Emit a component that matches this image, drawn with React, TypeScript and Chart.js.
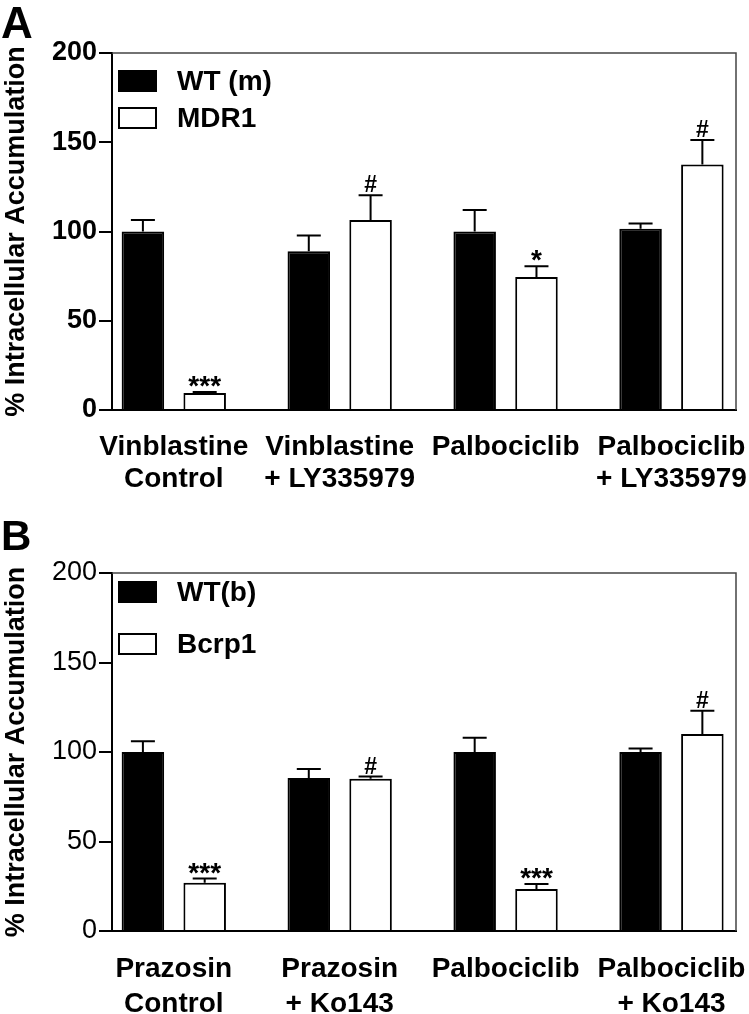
import React, { useEffect, useRef } from 'react';
import { Chart, registerables } from 'chart.js';

Chart.register(...registerables);

const FONT = '"Liberation Sans", Arial, Helvetica, sans-serif';

// ---------- Panel A data ----------
const categoriesA = [
  ['Vinblastine', 'Control'],
  ['Vinblastine', '+ LY335979'],
  ['Palbociclib'],
  ['Palbociclib', '+ LY335979'],
];
const seriesNamesA = ['WT (m)', 'MDR1'];
const wtM = [100, 89, 100, 101.5];
const wtMErr = [6.5, 8.8, 12, 3];
const mdr1 = [9.5, 106.5, 74.5, 137.5];
const mdr1Err = [0.6, 13.8, 6, 13.8];
const marksWtM = ['', '', '', ''];
const marksMdr1 = ['***', '#', '*', '#'];

// ---------- Panel B data ----------
const categoriesB = [
  ['Prazosin', 'Control'],
  ['Prazosin', '+ Ko143'],
  ['Palbociclib'],
  ['Palbociclib', '+ Ko143'],
];
const seriesNamesB = ['WT(b)', 'Bcrp1'];
const wtB = [100, 85.5, 100, 100];
const wtBErr = [6, 5, 8, 2];
const bcrp1 = [27, 85, 23.5, 110];
const bcrp1Err = [2.3, 1.3, 2.8, 13];
const marksWtB = ['', '', '', ''];
const marksBcrp1 = ['***', '#', '***', '#'];

const yTicks = [0, 50, 100, 150, 200];
const yTitle = '% Intracellular Accumulation';

type PanelProps = {
  height: number;
  letter: string;
  letterSize: number;
  letterBaseline: number;
  categories: string[][];
  names: string[];
  values: number[][];
  errors: number[][];
  marks: string[][];
  tickBold: boolean;
  plotTop: number;
  plotBottom: number;
  plotRight: number;
  legendRows: number[];
  labelPadding: number;
  labelLineHeight: number;
};

function Panel(p: PanelProps) {
  const ref = useRef<HTMLCanvasElement>(null);
  useEffect(() => {
    const canvas = ref.current!;
    const fills = ['#000000', '#ffffff'];
    const overlay = {
      id: 'overlay',
      afterDatasetsDraw(chart: any) {
        const ctx = chart.ctx;
        const ys = chart.scales.y;
        ctx.save();
        chart.data.datasets.forEach((_ds: any, i: number) => {
          const meta = chart.getDatasetMeta(i);
          meta.data.forEach((bar: any, j: number) => {
            const v = p.values[i][j];
            const e = p.errors[i][j];
            const yTop = ys.getPixelForValue(v);
            const yErr = ys.getPixelForValue(v + e);
            ctx.strokeStyle = '#000';
            ctx.lineWidth = 2;
            ctx.beginPath();
            ctx.moveTo(bar.x, yTop);
            ctx.lineTo(bar.x, yErr);
            ctx.moveTo(bar.x - 12, yErr);
            ctx.lineTo(bar.x + 12, yErr);
            ctx.stroke();
            const m = p.marks[i][j];
            if (m) {
              ctx.fillStyle = '#000';
              ctx.textAlign = 'center';
              ctx.textBaseline = 'alphabetic';
              if (m.startsWith('*')) {
                ctx.font = `bold 28px ${FONT}`;
                ctx.fillText(m, bar.x, yErr + 3);
              } else {
                ctx.font = `bold 23px ${FONT}`;
                ctx.fillText(m, bar.x, yErr - 3);
              }
            }
          });
        });
        ctx.restore();
      },
      afterDraw(chart: any) {
        const ctx = chart.ctx;
        const a = chart.chartArea;
        ctx.save();
        // frame (top and right)
        ctx.strokeStyle = '#444';
        ctx.lineWidth = 1.5;
        ctx.beginPath();
        ctx.moveTo(a.left, a.top);
        ctx.lineTo(a.right, a.top);
        ctx.lineTo(a.right, a.bottom);
        ctx.stroke();
        // legend
        p.names.forEach((n, i) => {
          const cy = p.legendRows[i];
          ctx.fillStyle = fills[i];
          ctx.fillRect(119, cy - 10, 37, 20);
          ctx.strokeStyle = '#000';
          ctx.lineWidth = 2;
          ctx.strokeRect(119, cy - 10, 37, 20);
          ctx.fillStyle = '#000';
          ctx.font = `bold 28px ${FONT}`;
          ctx.textAlign = 'left';
          ctx.textBaseline = 'middle';
          ctx.fillText(n, 177, cy + 1);
        });
        // panel letter
        ctx.fillStyle = '#000';
        ctx.font = `bold ${p.letterSize}px ${FONT}`;
        ctx.textAlign = 'left';
        ctx.textBaseline = 'alphabetic';
        ctx.fillText(p.letter, 1, p.letterBaseline);
        ctx.restore();
      },
    };

    const chart = new Chart(canvas, {
      type: 'bar',
      data: {
        datasets: p.values.map((vals, i) => ({
          label: p.names[i],
          data: vals.map((v, j) => ({ x: j, y: v })),
          backgroundColor: fills[i],
          borderColor: '#000000',
          borderWidth: 2,
          categoryPercentage: 0.745,
          barPercentage: 0.688,
        })),
      },
      options: {
        animation: false,
        responsive: false,
        maintainAspectRatio: false,
        layout: {
          padding: { top: p.plotTop, right: 749 - p.plotRight, left: 0, bottom: 0 },
        },
        plugins: {
          legend: { display: false },
          tooltip: { enabled: false },
        },
        scales: {
          x: {
            type: 'linear',
            min: -0.3725,
            max: 3.389,
            offset: false,
            grid: { display: false, drawTicks: false, offset: false },
            border: { display: true, color: '#000', width: 2 },
            afterBuildTicks: (s: any) => {
              s.ticks = p.categories.map((_c, k) => ({ value: k }));
            },
            afterFit: (s: any) => {
              s.height = p.height - p.plotBottom;
              s.paddingLeft = 0;
              s.paddingRight = 0;
            },
            ticks: {
              autoSkip: false,
              maxRotation: 0,
              minRotation: 0,
              padding: p.labelPadding,
              color: '#000',
              font: { family: FONT, size: 28, weight: 'bold', lineHeight: p.labelLineHeight },
              callback: (value: any) => p.categories[Math.round(Number(value))] as any,
            },
          },
          y: {
            type: 'linear',
            min: 0,
            max: 200,
            grid: {
              display: true,
              drawOnChartArea: false,
              drawTicks: true,
              tickLength: 13,
              color: '#000',
              lineWidth: 2,
            },
            border: { display: true, color: '#000', width: 2 },
            afterBuildTicks: (s: any) => {
              s.ticks = yTicks.map((v) => ({ value: v }));
            },
            afterFit: (s: any) => {
              s.width = 112;
              s.paddingTop = 0;
              s.paddingBottom = 0;
            },
            ticks: {
              padding: 2,
              color: '#000',
              font: { family: FONT, size: 27, weight: p.tickBold ? 'bold' : 'normal' },
              callback: (v: any) => String(v),
            },
            title: {
              display: true,
              text: yTitle,
              color: '#000',
              padding: 0,
              font: { family: FONT, size: 27, weight: 'bold', lineHeight: 1.2 },
            },
          },
        },
      },
      plugins: [overlay],
    } as any);
    return () => chart.destroy();
  }, []);
  return (
    <canvas
      ref={ref}
      width={749}
      height={p.height}
      style={{ display: 'block', width: 749, height: p.height }}
    />
  );
}

export default function App() {
  return (
    <div style={{ position: 'absolute', left: 0, top: 0, width: 749, height: 1014, background: '#fff' }}>
      <Panel
        height={500}
        letter="A"
        letterSize={44}
        letterBaseline={38}
        categories={categoriesA}
        names={seriesNamesA}
        values={[wtM, mdr1]}
        errors={[wtMErr, mdr1Err]}
        marks={[marksWtM, marksMdr1]}
        tickBold={true}
        plotTop={53}
        plotBottom={410}
        plotRight={736}
        legendRows={[81, 118]}
        labelPadding={21}
        labelLineHeight={1.143}
      />
      <Panel
        height={514}
        letter="B"
        letterSize={42}
        letterBaseline={50}
        categories={categoriesB}
        names={seriesNamesB}
        values={[wtB, bcrp1]}
        errors={[wtBErr, bcrp1Err]}
        marks={[marksWtB, marksBcrp1]}
        tickBold={false}
        plotTop={73}
        plotBottom={431}
        plotRight={736}
        legendRows={[92, 144]}
        labelPadding={21}
        labelLineHeight={1.25}
      />
    </div>
  );
}
